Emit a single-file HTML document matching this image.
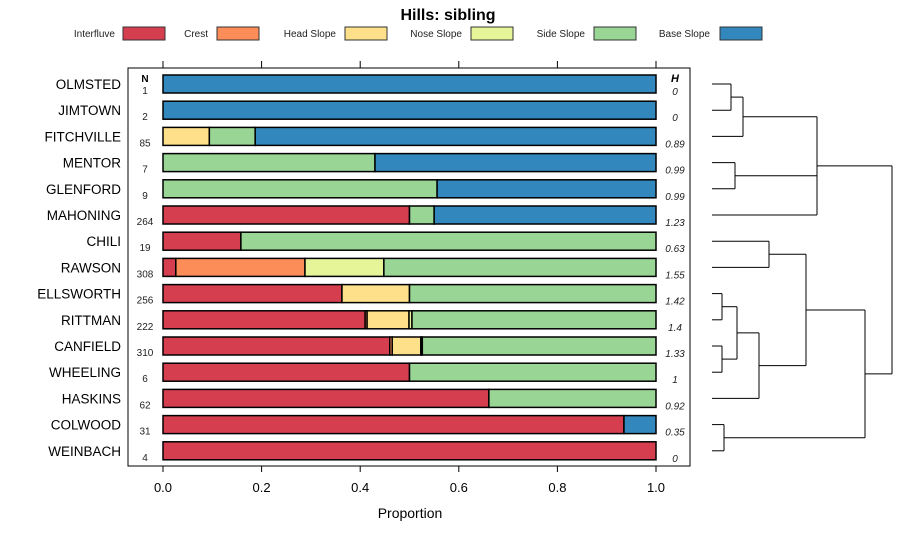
<!DOCTYPE html>
<html><head><meta charset="utf-8"><style>
html,body{margin:0;padding:0;background:#fff;}
svg{display:block;font-family:"Liberation Sans",sans-serif;}
</style></head><body>
<svg id="c" width="900" height="540" xmlns="http://www.w3.org/2000/svg">
<text x="448" y="20" text-anchor="middle" font-size="16" font-weight="bold">Hills: sibling</text>
<g id="legend"></g>
<rect x="128" y="68" width="562" height="398" fill="none" stroke="#000" stroke-width="1"/>
<g id="bars"></g>
<g id="axis"></g>
<g id="dendro"></g>
<text x="410" y="518" text-anchor="middle" font-size="14">Proportion</text>
</svg>
<script>
const categories = ["OLMSTED","JIMTOWN","FITCHVILLE","MENTOR","GLENFORD","MAHONING","CHILI","RAWSON","ELLSWORTH","RITTMAN","CANFIELD","WHEELING","HASKINS","COLWOOD","WEINBACH"];
const seriesNames = ["Interfluve","Crest","Head Slope","Nose Slope","Side Slope","Base Slope"];
const colors = ["#D53E4F","#FC8D59","#FEE08B","#E6F598","#99D594","#3288BD"];
const interfluve = [0,0,0,0,0,0.50,0.158,0.026,0.363,0.41,0.46,0.50,0.661,0.935,1];
const crest      = [0,0,0,0,0,0,0,0.262,0,0.004,0.005,0,0,0,0];
const headSlope  = [0,0,0.094,0,0,0,0,0,0.137,0.085,0.058,0,0,0,0];
const noseSlope  = [0,0,0,0,0,0,0,0.16,0,0.006,0.003,0,0,0,0];
const sideSlope  = [0,0,0.093,0.43,0.556,0.05,0.842,0.552,0.50,0.495,0.474,0.50,0.339,0,0];
const baseSlope  = [1,1,0.813,0.57,0.444,0.45,0,0,0,0,0,0,0,0.065,0];
const nValues = ["1","2","85","7","9","264","19","308","256","222","310","6","62","31","4"];
const hValues = ["0","0","0.89","0.99","0.99","1.23","0.63","1.55","1.42","1.4","1.33","1","0.92","0.35","0"];
const xTicks = [0,0.2,0.4,0.6,0.8,1.0];
const xTickLabels = ["0.0","0.2","0.4","0.6","0.8","1.0"];
const merges = [[0,1,731],[ "n0",2,743],[3,4,735],["n1","n2",5,817],[6,7,769],[8,9,722],[10,11,722],["n5","n6",737],["n7",12,759],["n4","n8",806],[13,14,724],["n9","n10",865],["n3","n11",892]];

const NS="http://www.w3.org/2000/svg";
const X = v => 163 + v*493;
const Y = i => 84 + i*26.2;
function mk(tag, attrs, parent){const e=document.createElementNS(NS,tag);for(const k in attrs)e.setAttribute(k,attrs[k]);parent.appendChild(e);return e;}
const series=[interfluve,crest,headSlope,noseSlope,sideSlope,baseSlope];

const lg=document.getElementById('legend');
const legX=[[115,123],[208,217],[336,345],[462,471],[585,594],[710,720]];
seriesNames.forEach((s,k)=>{
  const t=mk('text',{x:legX[k][0],y:37,'text-anchor':'end','font-size':'10',fill:'#222'},lg);t.textContent=s;
  
  
  const r=mk('rect',{x:legX[k][1],y:27,width:42,height:13,fill:colors[k],stroke:'#333','stroke-width':1},lg);
  
  
});

const bg=document.getElementById('bars');
const hN=mk('text',{x:145,y:82,'text-anchor':'middle','font-size':'10','font-weight':'bold'},bg);hN.textContent='N';


const hH=mk('text',{x:675,y:82,'text-anchor':'middle','font-size':'11','font-weight':'bold','font-style':'italic'},bg);hH.textContent='H';


categories.forEach((c,i)=>{
  const y=Y(i);
  const lab=mk('text',{x:121,y:y+5,'text-anchor':'end','font-size':'13.5'},bg);lab.textContent=c;
  
  
  const n=mk('text',{x:145,y:y+10,'text-anchor':'middle','font-size':'10',fill:'#222'},bg);n.textContent=nValues[i];
  
  
  const h=mk('text',{x:675,y:y+11,'text-anchor':'middle','font-size':'10','font-style':'italic',fill:'#222'},bg);h.textContent=hValues[i];
  
  
  let cum=0;
  series.forEach((arr,k)=>{
    const v=arr[i]; if(v<=0)return;
    const r=mk('rect',{x:X(cum),y:y-9,width:X(cum+v)-X(cum),height:18,fill:colors[k],stroke:'#000','stroke-width':1.5},bg);
    
    
    cum+=v;
  });
});

const ax=document.getElementById('axis');
xTicks.forEach((t,j)=>{
  mk('line',{x1:X(t),x2:X(t),y1:466,y2:472,stroke:'#000'},ax);
  mk('line',{x1:X(t),x2:X(t),y1:61,y2:68,stroke:'#000'},ax);
  const tl=mk('text',{x:X(t),y:492,'text-anchor':'middle','font-size':'13'},ax);tl.textContent=xTickLabels[j];
  
  
});

const dg=document.getElementById('dendro');
const nodes={};
function pos(c){ if(typeof c==='number') return {x:712,y:Y(c)}; return nodes[c]; }
merges.forEach((m,idx)=>{
  const h=m[m.length-1]; const kids=m.slice(0,-1).map(pos);
  kids.forEach(p=>mk('line',{x1:p.x,x2:h,y1:p.y,y2:p.y,stroke:'#000','stroke-width':1},dg));
  const ys=kids.map(p=>p.y);
  mk('line',{x1:h,x2:h,y1:Math.min(...ys),y2:Math.max(...ys),stroke:'#000','stroke-width':1},dg);
  nodes['n'+idx]={x:h,y:(Math.min(...ys)+Math.max(...ys))/2};
});
</script>
</body></html>
